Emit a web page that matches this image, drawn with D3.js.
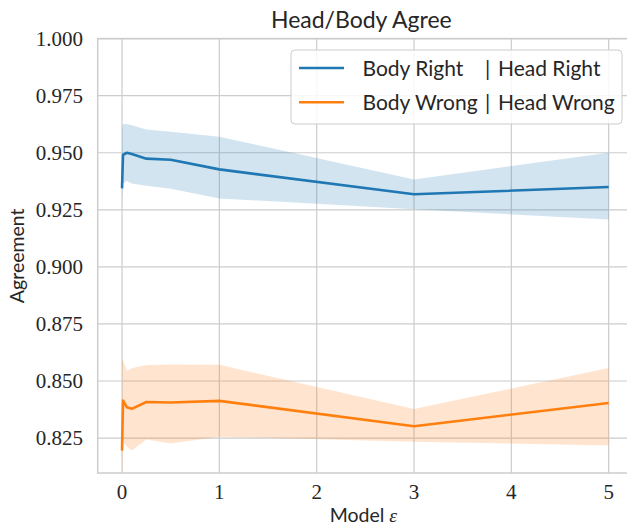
<!DOCTYPE html>
<html>
<head>
<meta charset="utf-8">
<script src="https://cdn.jsdelivr.net/npm/d3@7"></script>
<style>
  body { margin: 0; background: #fff; }
  svg { display: block; }
</style>
</head>
<body>
<svg id="chart" width="627" height="529"></svg>
<script>
// epsilon values on the x axis
const epsilons = [0, 0.01, 0.05, 0.1, 0.25, 0.5, 1, 3, 5];

// Body Right | Head Right
const rightMean = [0.9344, 0.9491, 0.9500, 0.9494, 0.9474, 0.9469, 0.9427, 0.9318, 0.9350];
const rightUpper = [0.9607, 0.9625, 0.9626, 0.9620, 0.9602, 0.9592, 0.9570, 0.9383, 0.9500];
const rightLower = [0.9285, 0.9366, 0.9376, 0.9365, 0.9355, 0.9342, 0.9300, 0.9252, 0.9208];

// Body Wrong | Head Wrong
const wrongMean = [0.8195, 0.8414, 0.8385, 0.8378, 0.8408, 0.8406, 0.8413, 0.8302, 0.8404];
const wrongUpper = [0.8599, 0.8592, 0.8545, 0.8556, 0.8570, 0.8572, 0.8571, 0.8377, 0.8557];
const wrongLower = [0.8050, 0.8235, 0.8212, 0.8196, 0.8244, 0.8226, 0.8256, 0.8234, 0.8218];

const xTicks = [0, 1, 2, 3, 4, 5];
const yTicks = [0.825, 0.85, 0.875, 0.9, 0.925, 0.95, 0.975, 1.0];
const legendLabels = [["Body Right", "Head Right"], ["Body Wrong", "Head Wrong"]];
const colors = ["#1f77b4", "#ff7f0e"];

const svg = d3.select("#chart");
const margin = { top: 38.6, bottom: 473, left: 97.7, right: 633 };

const x = d3.scaleLinear().domain([-0.25, 5.25]).range([margin.left, margin.right]);
const y = d3.scaleLinear().domain([0.8097, 1.0]).range([margin.bottom, margin.top]);

const grid = "#cccccc";
const textColor = "#262626";

// clip to plot area
svg.append("defs").append("clipPath").attr("id", "plot")
  .append("rect")
  .attr("x", margin.left).attr("y", margin.top)
  .attr("width", margin.right - margin.left)
  .attr("height", margin.bottom - margin.top);

// grid lines
svg.append("g").selectAll("line").data(xTicks).enter().append("line")
  .attr("x1", d => x(d)).attr("x2", d => x(d))
  .attr("y1", margin.top).attr("y2", margin.bottom)
  .attr("stroke", grid).attr("stroke-width", 1.2);

svg.append("g").selectAll("line").data(yTicks).enter().append("line")
  .attr("x1", margin.left).attr("x2", margin.right)
  .attr("y1", d => y(d)).attr("y2", d => y(d))
  .attr("stroke", grid).attr("stroke-width", 1.2);

// bands and lines
const series = [
  { mean: rightMean, lo: rightLower, hi: rightUpper },
  { mean: wrongMean, lo: wrongLower, hi: wrongUpper }
];

const plot = svg.append("g").attr("clip-path", "url(#plot)");

series.forEach((s, k) => {
  const pts = epsilons.map((e, i) => ({ e, m: s.mean[i], lo: s.lo[i], hi: s.hi[i] }));
  const area = d3.area()
    .x(d => x(d.e))
    .y0(d => y(d.lo))
    .y1(d => y(d.hi));
  plot.append("path")
    .datum(pts)
    .attr("d", area)
    .attr("fill", colors[k])
    .attr("fill-opacity", 0.2);
});

series.forEach((s, k) => {
  const pts = epsilons.map((e, i) => ({ e, m: s.mean[i] }));
  const line = d3.line().x(d => x(d.e)).y(d => y(d.m));
  plot.append("path")
    .datum(pts)
    .attr("d", line)
    .attr("fill", "none")
    .attr("stroke", colors[k])
    .attr("stroke-width", 2.6)
    .attr("stroke-linejoin", "round");
});

// spines
svg.append("rect")
  .attr("x", margin.left).attr("y", margin.top)
  .attr("width", margin.right - margin.left)
  .attr("height", margin.bottom - margin.top)
  .attr("fill", "none").attr("stroke", grid).attr("stroke-width", 1.5);

// tick labels
svg.append("g").selectAll("text").data(yTicks).enter().append("text")
  .attr("x", 83).attr("y", d => y(d))
  .attr("dy", "0.35em")
  .attr("text-anchor", "end")
  .attr("font-family", "'Liberation Serif', serif")
  .attr("font-size", 21)
  .attr("fill", textColor)
  .text(d => d3.format(".3f")(d));

svg.append("g").selectAll("text").data(xTicks).enter().append("text")
  .attr("x", d => x(d)).attr("y", 499)
  .attr("text-anchor", "middle")
  .attr("font-family", "'Liberation Serif', serif")
  .attr("font-size", 21)
  .attr("fill", textColor)
  .text(d => d);

// title and axis labels
svg.append("text")
  .attr("x", (margin.left + margin.right) / 2 - 4).attr("y", 28)
  .attr("text-anchor", "middle")
  .attr("font-family", "Lato, sans-serif")
  .attr("font-size", 23)
  .attr("fill", textColor)
  .text("Head/Body Agree");

const xl = svg.append("text")
  .attr("x", (margin.left + margin.right) / 2 - 2).attr("y", 522)
  .attr("text-anchor", "middle")
  .attr("font-family", "Lato, sans-serif")
  .attr("font-size", 19.5)
  .attr("fill", textColor);
xl.append("tspan").text("Model ");
xl.append("tspan").attr("font-family", "'Liberation Serif', serif").attr("font-style", "italic").text("ε");

svg.append("text")
  .attr("transform", `translate(24,${(margin.top + margin.bottom) / 2}) rotate(-90)`)
  .attr("text-anchor", "middle")
  .attr("font-family", "Lato, sans-serif")
  .attr("font-size", 19.5)
  .attr("fill", textColor)
  .text("Agreement");

// legend
const legend = svg.append("g");
legend.append("rect")
  .attr("x", 291).attr("y", 50).attr("width", 331).attr("height", 74)
  .attr("rx", 4)
  .attr("fill", "#fff").attr("fill-opacity", 0.85)
  .attr("stroke", grid).attr("stroke-width", 1);

legendLabels.forEach((lab, i) => {
  const ly = 68 + i * 34.3;
  legend.append("line")
    .attr("x1", 299).attr("x2", 344)
    .attr("y1", ly).attr("y2", ly)
    .attr("stroke", colors[i]).attr("stroke-width", 2.6);
  const t = (xp, s) => legend.append("text")
    .attr("x", xp).attr("y", ly).attr("dy", "0.36em")
    .attr("font-family", "Lato, sans-serif")
    .attr("font-size", 21)
    .attr("fill", textColor)
    .text(s);
  t(362.5, lab[0]);
  t(485, "|");
  t(498, lab[1]);
});
</script>
</body>
</html>
